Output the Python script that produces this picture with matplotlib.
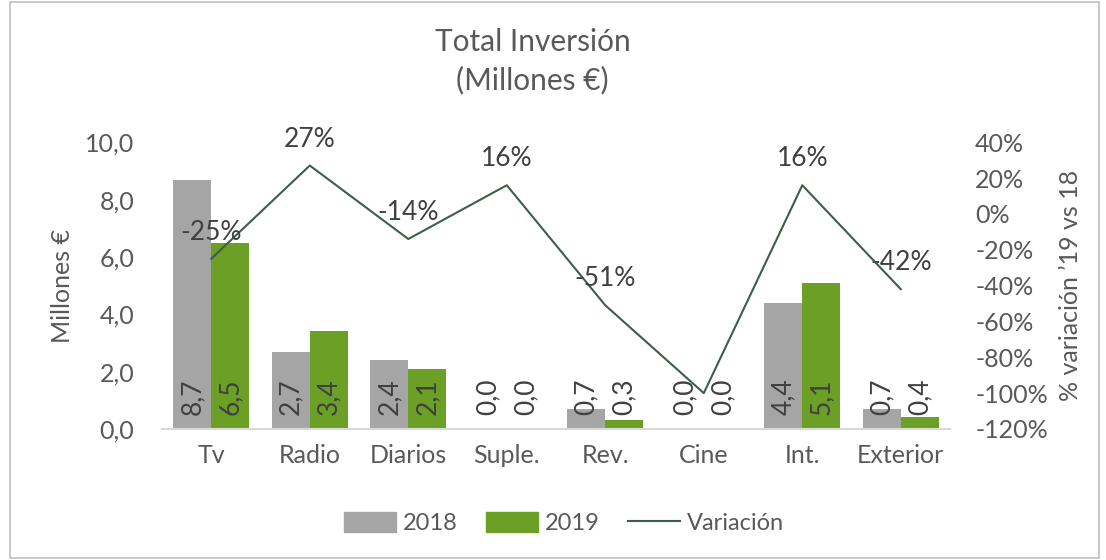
import matplotlib
matplotlib.use("Agg")
import matplotlib.pyplot as plt
import numpy as np
from matplotlib.patches import Rectangle
from matplotlib.lines import Line2D

plt.rcParams['font.family'] = ['Lato', 'DejaVu Sans']

categories = ["Tv", "Radio", "Diarios", "Suple.", "Rev.", "Cine", "Int.", "Exterior"]
v2018 = [8.7, 2.7, 2.4, 0.02, 0.7, 0.02, 4.4, 0.7]
v2019 = [6.5, 3.4, 2.1, 0.02, 0.3, 0.0, 5.1, 0.4]
variacion = [-25, 27, -14, 16, -51, -100, 16, -42]
var_labels = ["-25%", "27%", "-14%", "16%", "-51%", None, "16%", "-42%"]

C18 = "#a5a5a5"
C19 = "#6b9f25"
CL = "#3c5e4a"
TXT = "#595959"
LBL = "#404040"
FS = 18

fig = plt.figure(figsize=(11.06, 5.6), dpi=100)
ax = fig.add_axes([0.1465, 0.234, 0.7125, 0.512])
x = np.arange(len(categories))
w = 0.386
b1 = ax.bar(x - w/2, v2018, w, color=C18)
b2 = ax.bar(x + w/2, v2019, w, color=C19)
ax.set_xlim(-0.5, len(categories) - 0.5)
ax.set_ylim(0, 10)
ax.set_yticks(np.arange(0, 10.01, 2))
ax.set_yticklabels([f"{t:.1f}".replace(".", ",") for t in np.arange(0, 10.01, 2)])
ax.set_xticks(x)
ax.set_xticklabels(categories)
for s in ["top", "right", "left"]:
    ax.spines[s].set_visible(False)
ax.spines["bottom"].set_color("#d9d9d9")
ax.spines["bottom"].set_linewidth(1.5)
ax.tick_params(axis="both", length=0, labelsize=FS, colors=TXT)
ax.tick_params(axis="y", pad=20)
ax.tick_params(axis="x", pad=11)
ax.set_ylabel("Millones €", fontsize=FS, color=TXT, labelpad=8)

for bars, vals in ((b1, v2018), (b2, v2019)):
    for r, v in zip(bars, vals):
        ax.text(r.get_x() + r.get_width()/2, 0.5, f"{v:.1f}".replace(".", ","),
                rotation=90, ha="center", va="bottom", fontsize=19, color=LBL)

ax2 = ax.twinx()
ax2.plot(x, variacion, color=CL, lw=1.5)
ax2.set_ylim(-120, 40)
ax2.set_yticks(np.arange(-120, 41, 20))
ax2.set_yticklabels([f"{t}%" for t in np.arange(-120, 41, 20)])
for s in ["top", "right", "left", "bottom"]:
    ax2.spines[s].set_visible(False)
ax2.tick_params(axis="y", length=0, labelsize=FS, colors=TXT, pad=18)
ax2.set_ylabel("% variación \u201919 vs 18", fontsize=FS, color=TXT, rotation=90, labelpad=8)
for xi, v, lab in zip(x, variacion, var_labels):
    if lab:
        ax2.annotate(lab, (xi, v), xytext=(0, 10), textcoords="offset points",
                     ha="center", va="bottom", fontsize=19, color=LBL)

fig.text(0.4815, 0.925, "Total Inversión", ha="center", va="center", fontsize=21.5, color=TXT)
fig.text(0.4815, 0.857, "(Millones €)", ha="center", va="center", fontsize=21.5, color=TXT)

handles = [Rectangle((0, 0), 1, 1, color=C18), Rectangle((0, 0), 1, 1, color=C19),
           Line2D([0], [0], color=CL, lw=1.5)]
leg = fig.legend(handles, ["2018", "2019", "Variación"], loc="center", bbox_to_anchor=(0.51, 0.066),
                 ncol=3, frameon=False, fontsize=17, handlelength=2.2, handleheight=0.9,
                 columnspacing=1.2, handletextpad=0.3)
for t in leg.get_texts():
    t.set_color(TXT)

fig.add_artist(Rectangle((0.009, 0.003), 0.985, 0.994, transform=fig.transFigure,
                         fill=False, edgecolor="#bfbfbf", lw=1.2))

fig.savefig("out.png", dpi=100)
